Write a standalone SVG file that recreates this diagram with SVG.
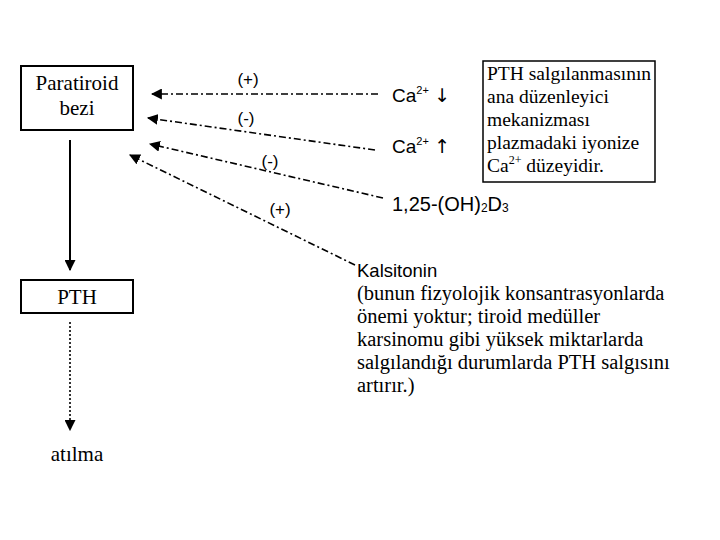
<svg xmlns="http://www.w3.org/2000/svg" width="720" height="540" viewBox="0 0 720 540">
<style>
.box{fill:#fff;stroke:#000;stroke-width:2}
.serif{font-family:"Liberation Serif","Times New Roman",serif;font-size:19.5px;fill:#000}
.big{font-size:21px}
.kal{font-size:20.5px}
.sans{font-family:"Liberation Sans",Arial,sans-serif;font-size:17px;fill:#000}
.ion{font-size:19px}
.vd{font-size:20px}
.kt{font-size:18.5px}
.arr{font-family:"DejaVu Sans",sans-serif;font-size:19px}
.dd{fill:none;stroke:#000;stroke-width:1.6;stroke-dasharray:7,3,2,3}
.dot{fill:none;stroke:#000;stroke-width:1.6;stroke-dasharray:2,2}
.solid{fill:none;stroke:#000;stroke-width:2}
</style>
<defs>
<marker id="ah" viewBox="0 0 10 10" refX="9" refY="5" markerWidth="11" markerHeight="11" markerUnits="userSpaceOnUse" orient="auto">
<path d="M0,0 L10,5 L0,10 z" fill="#000"/>
</marker>
</defs>
<rect width="720" height="540" fill="#fff"/>
<g id="paratiroid">
<rect class="box" x="21" y="66" width="112" height="64"/>
<text class="serif big" x="77" y="90" text-anchor="middle">Paratiroid</text>
<text class="serif big" x="77" y="115" text-anchor="middle">bezi</text>
</g>
<g id="pth">
<rect class="box" x="21" y="280" width="112" height="33"/>
<text class="serif big" x="77" y="304" text-anchor="middle">PTH</text>
</g>
<g id="atilma">
<text class="serif big" x="77" y="461" text-anchor="middle">atılma</text>
</g>
<g id="ca-low">
<text class="sans ion" x="392" y="102">Ca<tspan font-size="11" dy="-8">2+</tspan><tspan dy="8"> </tspan><tspan class="arr">↓</tspan></text>
</g>
<g id="ca-high">
<text class="sans ion" x="392" y="153">Ca<tspan font-size="11" dy="-8">2+</tspan><tspan dy="8"> </tspan><tspan class="arr">↑</tspan></text>
</g>
<g id="vitd">
<text class="sans vd" x="392" y="211">1,25-(OH)<tspan font-size="12" dy="1">2</tspan><tspan dy="-1">D</tspan><tspan font-size="12" dy="1">3</tspan></text>
</g>
<g id="note">
<rect fill="#fff" stroke="#000" stroke-width="1.5" x="483" y="61" width="172" height="121"/>
<text class="serif" x="487" y="80">PTH salgılanmasının</text>
<text class="serif" x="487" y="103">ana düzenleyici</text>
<text class="serif" x="487" y="126">mekanizması</text>
<text class="serif" x="487" y="149">plazmadaki iyonize</text>
<text class="serif" x="487" y="172">Ca<tspan font-size="12" dy="-8">2+</tspan><tspan dy="8"> düzeyidir.</tspan></text>
</g>
<g id="kalsitonin">
<text class="sans kt" x="357" y="277">Kalsitonin</text>
<text class="serif kal" x="357" y="300">(bunun fizyolojik konsantrasyonlarda</text>
<text class="serif kal" x="357" y="323">önemi yoktur; tiroid medüller</text>
<text class="serif kal" x="357" y="346">karsinomu gibi yüksek miktarlarda</text>
<text class="serif kal" x="357" y="369">salgılandığı durumlarda PTH salgısını</text>
<text class="serif kal" x="357" y="392">artırır.)</text>
</g>
<g id="connectors">
<line class="dd" x1="378" y1="94" x2="152" y2="94" marker-end="url(#ah)"/>
<line class="dd" x1="375" y1="150" x2="148" y2="118" marker-end="url(#ah)"/>
<line class="dd" x1="383" y1="198" x2="150" y2="144" marker-end="url(#ah)"/>
<line class="dd" x1="355" y1="265" x2="130" y2="155" marker-end="url(#ah)"/>
<line class="solid" x1="70" y1="140" x2="70" y2="270" marker-end="url(#ah)"/>
<line class="dot" x1="70" y1="322" x2="70" y2="430" marker-end="url(#ah)"/>
<text class="sans" x="248" y="85" text-anchor="middle">(+)</text>
<text class="sans" x="246" y="124" text-anchor="middle">(-)</text>
<text class="sans" x="270" y="167" text-anchor="middle">(-)</text>
<text class="sans" x="280" y="215" text-anchor="middle">(+)</text>
</g>
</svg>
